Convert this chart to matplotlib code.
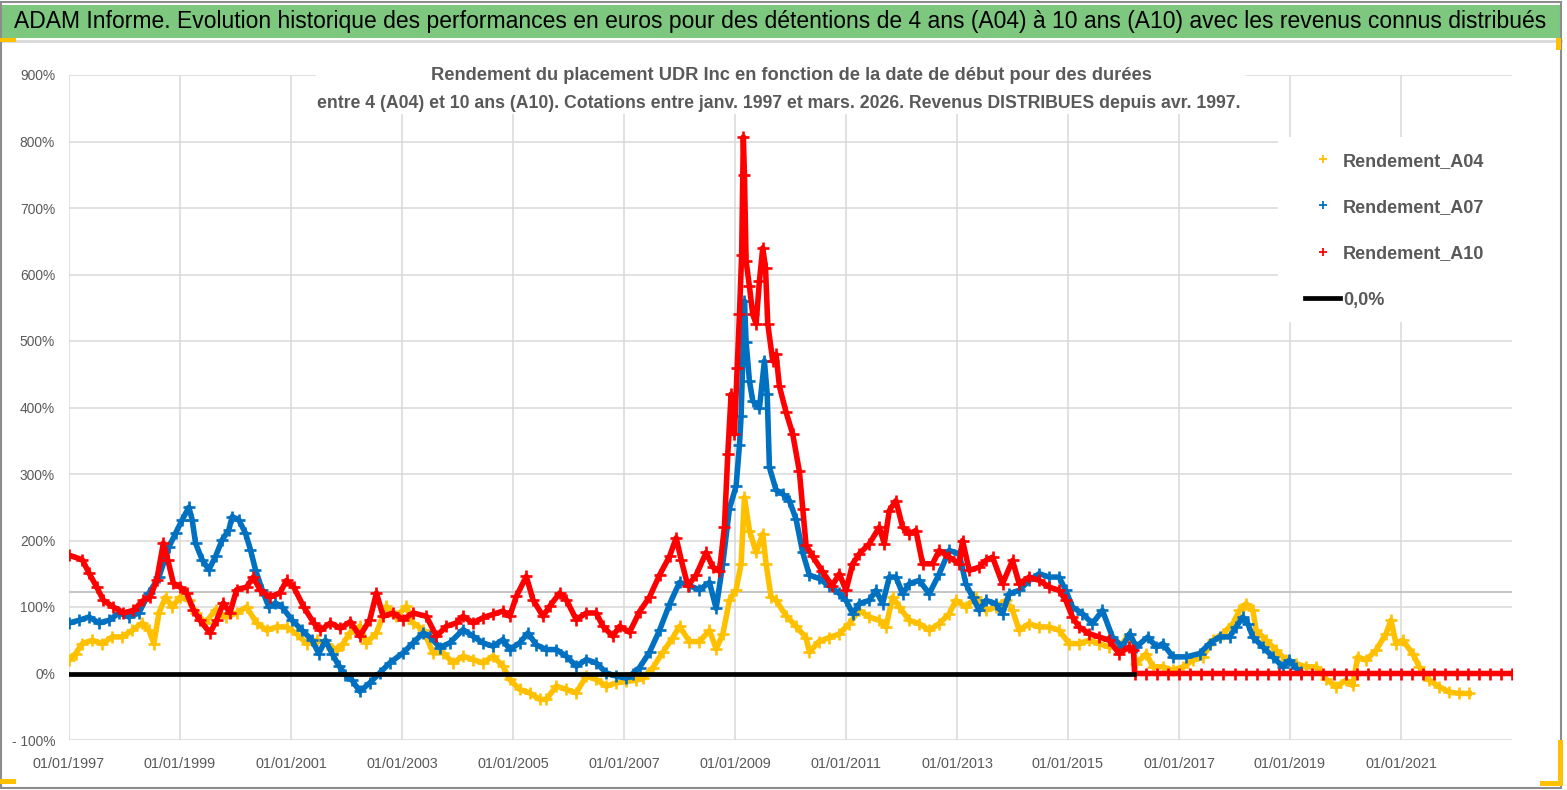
import matplotlib
matplotlib.use("Agg")
import matplotlib.pyplot as plt
from matplotlib.patches import Rectangle
from matplotlib.lines import Line2D

# ---------------- data ----------------
yrs_a04 = [1997.0, 1997.12, 1997.24, 1997.42, 1997.6, 1997.78, 1997.96, 1998.14, 1998.32, 1998.44,
           1998.53, 1998.62, 1998.74, 1998.86, 1999.0, 1999.16, 1999.28, 1999.46, 1999.64, 1999.82,
           2000.02, 2000.2, 2000.38, 2000.56, 2000.74, 2000.92, 2001.1, 2001.28, 2001.46, 2001.64,
           2001.82, 2001.94, 2002.06, 2002.24, 2002.36, 2002.54, 2002.72, 2002.9, 2003.08, 2003.2,
           2003.38, 2003.56, 2003.74, 2003.92, 2004.1, 2004.28, 2004.46, 2004.64, 2004.82, 2004.94,
           2005.12, 2005.3, 2005.48, 2005.6, 2005.78, 2005.96, 2006.14, 2006.32, 2006.5, 2006.68,
           2006.86, 2007.04, 2007.22, 2007.34, 2007.52, 2007.7, 2007.88, 2008.0, 2008.18, 2008.36,
           2008.54, 2008.66, 2008.78, 2008.9, 2009.02, 2009.11, 2009.17, 2009.26, 2009.38, 2009.5,
           2009.56, 2009.65, 2009.74, 2009.92, 2010.1, 2010.28, 2010.34, 2010.51, 2010.69, 2010.87,
           2011.06, 2011.24, 2011.42, 2011.6, 2011.72, 2011.84, 2011.96, 2012.14, 2012.32, 2012.5,
           2012.68, 2012.86, 2012.98, 2013.16, 2013.34, 2013.52, 2013.7, 2013.88, 2014.0, 2014.12,
           2014.3, 2014.48, 2014.66, 2014.84, 2015.02, 2015.2, 2015.38, 2015.56, 2015.74, 2015.92,
           2016.1, 2016.23, 2016.41, 2016.53, 2016.71, 2016.89, 2017.07, 2017.25, 2017.43, 2017.61,
           2017.79, 2017.97, 2018.09, 2018.21, 2018.33, 2018.39, 2018.57, 2018.75, 2018.93, 2019.11,
           2019.29, 2019.47, 2019.65, 2019.83, 2020.01, 2020.13, 2020.22, 2020.37, 2020.55, 2020.73,
           2020.82, 2020.91, 2021.03, 2021.21, 2021.33, 2021.51, 2021.69, 2021.87, 2022.05, 2022.23]
rend_a04 = [20, 30, 45, 50, 45, 55, 55, 65, 76, 65,
            45, 91, 115, 100, 115, 110, 91, 76, 96, 85,
            91, 100, 76, 65, 70, 70, 60, 45, 50, 45,
            35, 45, 61, 71, 46, 61, 101, 86, 101, 76,
            66, 31, 31, 16, 26, 21, 16, 26, 11, -9,
            -24, -29, -39, -39, -19, -24, -29, -4, -9, -19,
            -14, -12, -10, -7, 9, 32, 54, 71, 48, 48,
            65, 37, 59, 110, 126, 165, 265, 215, 182, 210,
            165, 115, 110, 87, 71, 54, 32, 48, 54, 59,
            75, 95, 85, 80, 70, 115, 100, 80, 75, 65,
            75, 90, 110, 100, 115, 95, 100, 110, 95, 65,
            75, 70, 70, 65, 45, 45, 50, 45, 40, 40,
            58, 15, 30, 10, 10, 5, 10, 20, 25, 50,
            60, 75, 95, 105, 95, 65, 50, 35, 20, 15,
            10, 10, -8, -20, -10, -18, 25, 20, 35, 60,
            80, 45, 50, 30, 10, -10, -20, -28, -30, -30]

yrs_a07 = [1997.0, 1997.18, 1997.36, 1997.54, 1997.72, 1997.9, 1998.08, 1998.26, 1998.44, 1998.62,
           1998.8, 1998.92, 1999.04, 1999.16, 1999.22, 1999.28, 1999.4, 1999.52, 1999.64, 1999.76,
           1999.88, 1999.94, 2000.06, 2000.18, 2000.27, 2000.36, 2000.48, 2000.6, 2000.72, 2000.84,
           2001.02, 2001.2, 2001.38, 2001.5, 2001.62, 2001.74, 2001.86, 2001.98, 2002.1, 2002.24,
           2002.42, 2002.6, 2002.78, 2003.02, 2003.2, 2003.38, 2003.5, 2003.68, 2003.86, 2004.1,
           2004.28, 2004.46, 2004.64, 2004.82, 2004.94, 2005.12, 2005.27, 2005.42, 2005.6, 2005.78,
           2005.96, 2006.14, 2006.32, 2006.5, 2006.68, 2006.86, 2007.04, 2007.16, 2007.28, 2007.46,
           2007.64, 2007.82, 2008.0, 2008.18, 2008.36, 2008.54, 2008.66, 2008.78, 2008.9, 2009.02,
           2009.08, 2009.11, 2009.17, 2009.2, 2009.26, 2009.32, 2009.44, 2009.53, 2009.58, 2009.62,
           2009.74, 2009.86, 2009.98, 2010.1, 2010.22, 2010.34, 2010.51, 2010.69, 2010.87, 2011.0,
           2011.12, 2011.24, 2011.42, 2011.54, 2011.66, 2011.78, 2011.9, 2012.02, 2012.14, 2012.32,
           2012.5, 2012.68, 2012.86, 2013.04, 2013.16, 2013.28, 2013.4, 2013.52, 2013.7, 2013.82,
           2013.94, 2014.12, 2014.3, 2014.48, 2014.66, 2014.84, 2014.96, 2015.08, 2015.26, 2015.44,
           2015.62, 2015.8, 2015.98, 2016.11, 2016.23, 2016.44, 2016.59, 2016.71, 2016.89, 2017.13,
           2017.37, 2017.55, 2017.73, 2017.91, 2018.03, 2018.15, 2018.24, 2018.33, 2018.51, 2018.69,
           2018.87, 2018.99, 2019.11, 2019.2]
rend_a07 = [76, 80, 85, 76, 80, 91, 85, 91, 121, 145,
            190, 211, 231, 250, 231, 196, 171, 156, 176, 201,
            216, 236, 231, 211, 186, 156, 126, 100, 106, 100,
            80, 65, 50, 30, 50, 30, 12, -2, -10, -27,
            -14, 1, 16, 31, 46, 61, 56, 39, 46, 66,
            56, 46, 41, 51, 36, 46, 61, 43, 36, 36,
            26, 11, 21, 16, 1, -4, -7, 0, 9, 32,
            65, 104, 137, 132, 126, 137, 98, 165, 248, 282,
            343, 387, 560, 499, 440, 410, 399, 470, 420, 310,
            276, 270, 260, 232, 182, 148, 143, 132, 121, 110,
            90, 105, 110, 125, 105, 145, 145, 120, 135, 140,
            120, 150, 185, 180, 135, 115, 95, 110, 105, 90,
            120, 125, 140, 150, 145, 145, 125, 100, 90, 75,
            95, 55, 40, 60, 40, 55, 40, 45, 25, 25,
            30, 45, 55, 55, 70, 85, 75, 55, 40, 25,
            10, 20, 8, 2]

yrs_a10 = [1997.0, 1997.24, 1997.36, 1997.5, 1997.62, 1997.8, 1997.98, 1998.16, 1998.34, 1998.46,
           1998.58, 1998.7, 1998.78, 1998.88, 1999.0, 1999.12, 1999.24, 1999.36, 1999.54, 1999.66,
           1999.78, 1999.9, 2000.02, 2000.2, 2000.32, 2000.44, 2000.62, 2000.8, 2000.92, 2001.05,
           2001.23, 2001.41, 2001.53, 2001.71, 2001.89, 2002.07, 2002.24, 2002.42, 2002.54, 2002.66,
           2002.84, 2003.02, 2003.2, 2003.44, 2003.62, 2003.8, 2003.98, 2004.1, 2004.28, 2004.46,
           2004.64, 2004.82, 2004.94, 2005.06, 2005.24, 2005.36, 2005.54, 2005.66, 2005.84, 2005.96,
           2006.14, 2006.32, 2006.5, 2006.62, 2006.8, 2006.92, 2007.1, 2007.28, 2007.46, 2007.64,
           2007.82, 2007.94, 2008.03, 2008.15, 2008.3, 2008.48, 2008.6, 2008.72, 2008.81, 2008.87,
           2008.93, 2008.99, 2009.04, 2009.08, 2009.12, 2009.15, 2009.17, 2009.2, 2009.26, 2009.32,
           2009.38, 2009.44, 2009.5, 2009.55, 2009.59, 2009.68, 2009.74, 2009.8, 2009.92, 2010.04,
           2010.16, 2010.22, 2010.28, 2010.4, 2010.57, 2010.75, 2010.88, 2011.0, 2011.12, 2011.24,
           2011.42, 2011.6, 2011.69, 2011.78, 2011.9, 2012.02, 2012.14, 2012.26, 2012.38, 2012.56,
           2012.68, 2012.86, 2013.04, 2013.1, 2013.22, 2013.4, 2013.52, 2013.64, 2013.82, 2014.0,
           2014.12, 2014.3, 2014.48, 2014.66, 2014.84, 2014.96, 2015.08, 2015.2, 2015.38, 2015.56,
           2015.74, 2015.92, 2016.1, 2016.18,
           2016.2, 2016.4, 2016.6, 2016.8, 2017.0, 2017.2, 2017.4, 2017.6, 2017.8, 2018.0,
           2018.2, 2018.4, 2018.6, 2018.8, 2019.0, 2019.2, 2019.4, 2019.6, 2019.8, 2020.0,
           2020.2, 2020.4, 2020.6, 2020.8, 2021.0, 2021.2, 2021.4, 2021.6, 2021.8, 2022.0,
           2022.2, 2022.4, 2022.6, 2022.8, 2023.0]
rend_a10 = [178, 171, 151, 130, 110, 100, 91, 95, 110, 115,
            140, 196, 171, 136, 130, 121, 96, 80, 61, 80,
            106, 91, 126, 130, 145, 126, 115, 121, 140, 130,
            100, 76, 65, 76, 68, 78, 56, 81, 121, 86,
            91, 81, 91, 86, 56, 71, 76, 86, 76, 84,
            89, 94, 86, 116, 146, 111, 86, 101, 121, 111,
            81, 91, 91, 71, 56, 71, 62, 93, 115, 148,
            176, 204, 171, 132, 148, 182, 160, 154, 221, 330,
            420, 360, 460, 540, 630, 807, 750, 620, 582, 540,
            526, 590, 640, 610, 526, 470, 480, 432, 393, 360,
            304, 248, 193, 176, 154, 132, 150, 125, 165, 180,
            195, 220, 195, 245, 260, 220, 210, 215, 165, 165,
            185, 175, 165, 200, 155, 160, 170, 175, 135, 170,
            135, 145, 140, 130, 125, 110, 85, 70, 60, 55,
            50, 30, 40, 35,
            0, 0, 0, 0, 0, 0, 0, 0, 0, 0,
            0, 0, 0, 0, 0, 0, 0, 0, 0, 0,
            0, 0, 0, 0, 0, 0, 0, 0, 0, 0,
            0, 0, 0, 0, 0]

zero_yrs = [1997.0, 2016.19]
zero_vals = [0, 0]
ref_level = 122          # darker horizontal reference line

series_labels = ["Rendement_A04", "Rendement_A07", "Rendement_A10"]
zero_label = "0,0%"
ytick_vals = [-100, 0, 100, 200, 300, 400, 500, 600, 700, 800, 900]
xtick_years = [1997, 1999, 2001, 2003, 2005, 2007, 2009, 2011, 2013, 2015, 2017, 2019, 2021]

banner_text = ("ADAM Informe. Evolution historique des performances en euros pour des détentions "
               "de 4 ans (A04) à 10 ans (A10) avec les revenus connus distribués")
sub1 = "Rendement du placement UDR Inc en fonction de la date de début pour des durées"
sub2 = ("entre 4 (A04) et 10 ans (A10). Cotations entre janv. 1997 et mars. 2026. "
        "Revenus DISTRIBUES depuis avr. 1997.")

# ---------------- styling ----------------
C04, C07, C10 = "#FFC000", "#0070C0", "#FF0000"
GRAY_TXT = "#595959"
GRID = "#D9D9D9"
plt.rcParams["font.family"] = ["Liberation Sans", "DejaVu Sans"]

W, H = 1567, 790
fig = plt.figure(figsize=(W / 100, H / 100), dpi=100)
fig.patch.set_facecolor("white")


def fx(px):
    return px / W


def fy(py):
    return 1 - py / H


ax = fig.add_axes([fx(69), fy(740), fx(1512) - fx(69), fy(75) - fy(740)])
ax.set_xlim(1997, 2023)
ax.set_ylim(-100, 900)
ax.set_axisbelow(True)
for s in ax.spines.values():
    s.set_visible(False)
ax.set_yticks(ytick_vals)
ax.set_yticklabels([("- %d%%" % abs(v)) if v < 0 else "%d%%" % v for v in ytick_vals])
ax.set_xticks(xtick_years)
ax.set_xticklabels(["01/01/%d" % y for y in xtick_years])
ax.tick_params(axis="y", length=0, pad=10, labelsize=11, labelcolor=GRAY_TXT)
ax.tick_params(axis="x", length=0, pad=12, labelsize=12, labelcolor=GRAY_TXT)
ax.grid(True, color=GRID, lw=1.1)
ax.axhline(ref_level, color="#BFBFBF", lw=1.3, zorder=0.6)

# white boxes behind the subtitle and the legend (hide grid there)
for (x0, y0, x1, y1) in [(316, 55, 1245, 114), (1278, 137, 1513, 322)]:
    ax.add_patch(Rectangle((fx(x0), fy(y1)), fx(x1) - fx(x0), fy(y0) - fy(y1),
                           transform=fig.transFigure, facecolor="white",
                           edgecolor="none", zorder=1.5, clip_on=False))

# data
kw = dict(marker="+", ms=9, mew=1.9, lw=4.0, solid_joinstyle="round")
ax.plot(yrs_a04, rend_a04, color=C04, zorder=3, **kw)
ax.plot(yrs_a07, rend_a07, color=C07, zorder=4, **kw)
ax.plot(yrs_a10, rend_a10, color=C10, zorder=5, **kw)
ax.plot(zero_yrs, zero_vals, color="black", lw=3.4, zorder=6)

# legend
handles = [Line2D([], [], color=c, marker="+", ls="none", ms=6, mew=1.3) for c in (C04, C07, C10)]
handles.append(Line2D([], [], color="black", lw=3.4))
leg = ax.legend(handles, series_labels + [zero_label], loc="upper left",
                bbox_to_anchor=(fx(1305), fy(152)), bbox_transform=fig.transFigure,
                frameon=False, prop={"weight": "bold", "size": 14}, labelcolor=GRAY_TXT,
                handlelength=1.8, handletextpad=0.15, labelspacing=1.48, borderpad=0,
                borderaxespad=0)
leg.set_zorder(10)

# banner
fig.add_artist(Rectangle((0, fy(38)), fx(1561), fy(5) - fy(38), transform=fig.transFigure,
                         facecolor="#7DC77E", edgecolor="none", zorder=0))
fig.add_artist(Line2D([0, fx(1561)], [fy(41), fy(41)], color="#D9D9D9", lw=2, zorder=0))
bt = fig.text(fx(14), fy(21.5), banner_text, ha="left", va="center", fontsize=16, color="black")
t1 = fig.text(fx(791), fy(75), sub1, ha="center", va="center", fontsize=12,
              fontweight="bold", color=GRAY_TXT, zorder=5)
t2 = fig.text(fx(779), fy(104), sub2, ha="center", va="center", fontsize=12,
              fontweight="bold", color=GRAY_TXT, zorder=5)

# outer frame and yellow accents
fig.add_artist(Rectangle((fx(1), fy(788)), fx(1561) - fx(1), fy(2) - fy(788),
                         transform=fig.transFigure, fill=False, edgecolor="#8C8C8C", lw=1.5, zorder=20))
for (x0, y0, x1, y1) in [(0, 38, 16, 42), (1556, 38, 1561, 50), (1558, 740, 1563, 786),
                         (1540, 781, 1563, 786), (0, 779, 16, 784)]:
    fig.add_artist(Rectangle((fx(x0), fy(y1)), fx(x1) - fx(x0), fy(y0) - fy(y1),
                             transform=fig.transFigure, facecolor="#FFC000",
                             edgecolor="none", zorder=21))

# fit text widths to the reference
fig.canvas.draw()
r = fig.canvas.get_renderer()
for t, target in [(bt, 1531), (t1, 717), (t2, 918)]:
    w = t.get_window_extent(r).width
    t.set_fontsize(t.get_fontsize() * target / w)
# tick labels: "01/01/1997" ~ 72 px wide, "900%" ~ 35 px wide
xl = ax.get_xticklabels()[0]
yl = ax.get_yticklabels()[-1]
xs = 12 * 72 / xl.get_window_extent(r).width
ys = 11 * 35 / yl.get_window_extent(r).width
ax.tick_params(axis="x", labelsize=xs)
ax.tick_params(axis="y", labelsize=ys)
lt = leg.get_texts()[0]
ls = 14 * 141 / lt.get_window_extent(r).width
for t in leg.get_texts():
    t.set_fontsize(ls)

fig.savefig("out.png", dpi=100, facecolor="white")
